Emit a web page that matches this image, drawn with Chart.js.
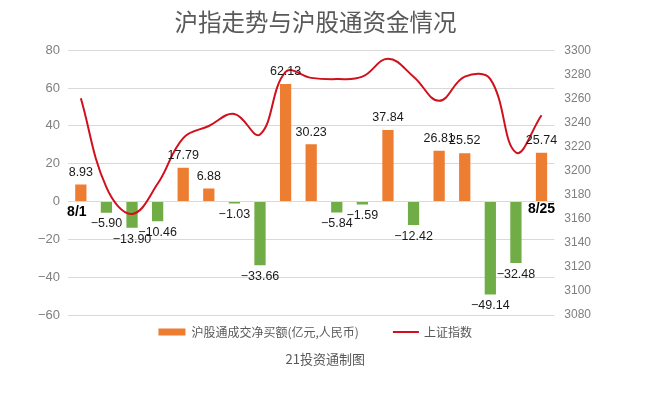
<!DOCTYPE html>
<html>
<head>
<meta charset="utf-8">
<script src="https://cdn.jsdelivr.net/npm/chart.js@4/dist/chart.umd.min.js"></script>
<style>
  html, body { margin: 0; padding: 0; background: #fff; }
  #wrap { width: 663px; height: 400px; }
</style>
</head>
<body>
<div id="wrap"><canvas id="hsgt-canvas"></canvas></div>
<script>
(function() {
    'use strict';

    // 2022年8月交易日
    var days = ['8/1', '8/2', '8/3', '8/4', '8/5', '8/8', '8/9', '8/10', '8/11', '8/12',
                '8/15', '8/16', '8/17', '8/18', '8/19', '8/22', '8/23', '8/24', '8/25'];
    // 沪股通成交净买额(亿元)
    var netBuy = [8.93, -5.90, -13.90, -10.46, 17.79, 6.88, -1.03, -33.66, 62.13, 30.23,
                  -5.84, -1.59, 37.84, -12.42, 26.81, 25.52, -49.14, -32.48, 25.74];
    // 上证指数收盘
    var shIndex = [3260, 3186, 3164, 3189, 3227, 3237, 3247, 3230, 3282, 3277,
                   3276, 3278, 3293, 3278, 3258, 3278, 3276, 3215, 3246];
    var leftTicks = [-60, -40, -20, 0, 20, 40, 60, 80];
    var rightTicks = [3080, 3100, 3120, 3140, 3160, 3180, 3200, 3220, 3240, 3260, 3280, 3300];
    var seriesNames = ['沪股通成交净买额(亿元,人民币)', '上证指数'];
    var footer = '21投资通制图';

    var orange = '#ED7D31';
    var green = '#70AD47';
    var red = '#D0101C';
    var grey = '#7F7F7F';
    var textGrey = '#595959';
    var cjk = "'Noto Sans CJK SC', 'Noto Sans', sans-serif";
    var latin = "'Liberation Sans', Arial, sans-serif";

    function fmt(v) {
        return v < 0 ? '\u2212' + Math.abs(v).toFixed(2) : v.toFixed(2);
    }

    var labelPlugin = {
        id: 'barLabels',
        afterDatasetsDraw: function(chart) {
            var ctx = chart.ctx;
            var meta = chart.getDatasetMeta(0);
            var zeroY = chart.scales.y.getPixelForValue(0);
            ctx.save();
            ctx.textAlign = 'center';
            ctx.fillStyle = '#1a1a1a';
            ctx.font = '12.5px ' + latin;
            meta.data.forEach(function(bar, i) {
                var v = netBuy[i];
                if (v >= 0) {
                    ctx.textBaseline = 'bottom';
                    ctx.fillText(fmt(v), bar.x, bar.y - 6);
                } else {
                    ctx.textBaseline = 'top';
                    ctx.fillText(fmt(v), bar.x, bar.y + 5);
                }
            });
            // first / last day
            ctx.font = 'bold 14px ' + latin;
            ctx.fillStyle = '#000';
            ctx.textBaseline = 'top';
            var first = meta.data[0], last = meta.data[meta.data.length - 1];
            ctx.fillText(days[0], first.x - 4, zeroY + 4);
            ctx.fillText(days[days.length - 1], last.x, zeroY + 1);
            ctx.restore();
        }
    };

    // legend + footer under the plot
    var legendPlugin = {
        id: 'bottomLegend',
        afterDraw: function(chart) {
            var ctx = chart.ctx;
            var area = chart.chartArea;
            ctx.save();
            ctx.font = '12px ' + cjk;
            var w1 = ctx.measureText(seriesNames[0]).width;
            var w2 = ctx.measureText(seriesNames[1]).width;
            var total = 27 + 6 + w1 + 34 + 26 + 5 + w2;
            var x = (area.left + area.right) / 2 + 4 - total / 2;
            var y = area.bottom + 17;
            ctx.fillStyle = orange;
            ctx.fillRect(x, y - 3.5, 27, 7);
            ctx.fillStyle = textGrey;
            ctx.textBaseline = 'middle';
            ctx.textAlign = 'left';
            ctx.fillText(seriesNames[0], x + 33, y);
            x += 33 + w1 + 34;
            ctx.strokeStyle = red;
            ctx.lineWidth = 2;
            ctx.beginPath();
            ctx.moveTo(x, y);
            ctx.lineTo(x + 26, y);
            ctx.stroke();
            ctx.fillText(seriesNames[1], x + 31, y);
            ctx.font = '13px ' + cjk;
            ctx.textAlign = 'center';
            ctx.fillText(footer, (area.left + area.right) / 2 + 14, area.bottom + 44);
            ctx.restore();
        }
    };

    var ctx = document.getElementById('hsgt-canvas').getContext('2d');
    var chartObj = new Chart(ctx, {
        type: 'bar',
        data: {
            labels: days,
            datasets: [{
                type: 'bar',
                label: seriesNames[0],
                data: netBuy,
                backgroundColor: netBuy.map(function(v) { return v >= 0 ? orange : green; }),
                yAxisID: 'y',
                categoryPercentage: 1,
                barPercentage: 0.44,
                order: 2
            }, {
                type: 'line',
                label: seriesNames[1],
                data: shIndex,
                borderColor: red,
                borderWidth: 2,
                pointRadius: 0,
                tension: 0.4,
                fill: false,
                yAxisID: 'y1',
                order: 1
            }]
        },
        options: {
            responsive: true,
            maintainAspectRatio: false,
            animation: false,
            layout: { padding: { left: 30, right: 62, top: 4, bottom: 85 } },
            scales: {
                x: {
                    display: false,
                    offset: true
                },
                y: {
                    position: 'left',
                    min: -60,
                    max: 80,
                    afterBuildTicks: function(axis) {
                        axis.ticks = leftTicks.map(function(v) { return { value: v }; });
                    },
                    ticks: {
                        color: grey,
                        font: { family: latin, size: 13 },
                        padding: 8,
                        callback: function(v) { return v < 0 ? '\u2212' + Math.abs(v) : String(v); }
                    },
                    grid: { color: '#D9D9D9', drawTicks: false },
                    border: { display: false }
                },
                y1: {
                    position: 'right',
                    min: 3080,
                    max: 3300,
                    afterBuildTicks: function(axis) {
                        axis.ticks = rightTicks.map(function(v) { return { value: v }; });
                    },
                    ticks: {
                        color: grey,
                        font: { family: latin, size: 12 },
                        padding: 10,
                        callback: function(v) { return String(v); }
                    },
                    grid: { display: false, drawTicks: false },
                    border: { display: false }
                }
            },
            plugins: {
                title: {
                    display: true,
                    text: '沪指走势与沪股通资金情况',
                    color: textGrey,
                    font: { family: cjk, size: 23.5, weight: 'normal' },
                    padding: { top: 4, bottom: 14 }
                },
                legend: { display: false },
                tooltip: { enabled: false }
            }
        },
        plugins: [labelPlugin, legendPlugin]
    });
})();
</script>
</body>
</html>
